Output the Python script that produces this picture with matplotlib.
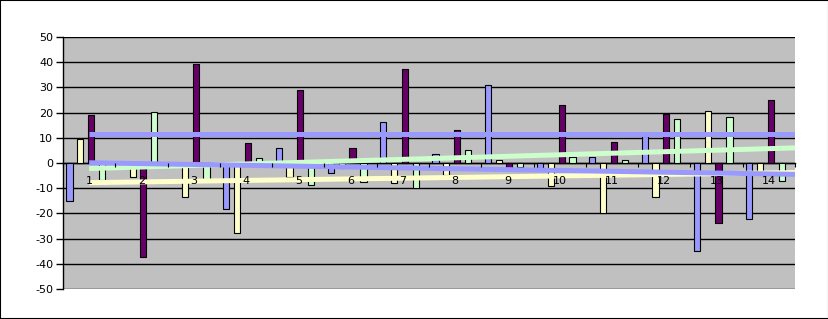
import matplotlib
matplotlib.use("Agg")
import matplotlib.pyplot as plt
from matplotlib.patches import Rectangle
import numpy as np

plt.rcParams["axes.unicode_minus"] = False

# categories 1..14
categories = [str(i) for i in range(1, 15)]

# four bar series
blue_vals = [-15, -1, -1, -18.3, 6, -4, 16.3, 3.6, 31, -2, 2.5, 10.8, -34.9, -22.2]
yellow_vals = [9.5, -5.6, -13.5, -27.8, -5.5, -2, -8, -4.8, 1.2, -9, -20, -13.5, 20.6, -3]
purple_vals = [19, -37.3, 39.3, 7.9, 29, 6, 37.3, 13, -2, 23, 8.3, 19.5, -23.8, 25]
green_vals = [-6.7, 20.3, -6.4, 2, -8.8, -7.5, -10, 5.2, -1.5, 2.5, 1.2, 17.5, 18.2, -7]

# line series (start / end values)
line_x = [1, 14.5]
line_flat = [11.6, 11.6]
line_blue = [0.1, -4.5]
line_green = [-2.2, 6.0]
line_yellow = [-7.8, -3.8]

bar_colors = ["#9999ff", "#ffffcc", "#660066", "#ccffcc"]
offsets = [-0.376, -0.168, 0.036, 0.246]
width = 0.118

fig = plt.figure(figsize=(8.29, 3.19), dpi=100)
ax = fig.add_axes([63 / 829, 30 / 319, 732 / 829, 252 / 319])
ax.set_facecolor("#c0c0c0")

x = np.arange(1, 15)
for vals, col, off in zip([blue_vals, yellow_vals, purple_vals, green_vals], bar_colors, offsets):
    ax.bar(x + off, vals, width=width, color=col, edgecolor="black", linewidth=0.8, zorder=3)

ax.plot(line_x, line_flat, color="#9999ff", lw=3.6, zorder=4, solid_capstyle="butt")
ax.plot(line_x, line_green, color="#ccffcc", lw=3.6, zorder=4, solid_capstyle="butt")
ax.plot(line_x, line_yellow, color="#ffffcc", lw=3.6, zorder=4, solid_capstyle="butt")
ax.plot(line_x, line_blue, color="#9999ff", lw=3.6, zorder=4, solid_capstyle="butt")

ax.set_xlim(0.5, 14.5)
ax.set_ylim(-50, 50)
ax.set_yticks(range(-50, 51, 10))
ax.yaxis.grid(True, color="black", lw=1.0, zorder=1)
ax.set_axisbelow(True)
ax.xaxis.set_zorder(5)
ax.tick_params(axis="y", direction="out", length=5, width=1, labelsize=8, pad=2)

ax.spines["top"].set_visible(False)
ax.spines["right"].set_visible(False)
ax.spines["left"].set_linewidth(1)
ax.spines["bottom"].set_position(("data", 0))
ax.spines["bottom"].set_linewidth(1)
ax.spines["bottom"].set_zorder(2)

ax.set_xticks(x)
ax.set_xticklabels(categories)
ax.set_xticks(np.arange(0.5, 15, 1), minor=True)
ax.tick_params(axis="x", which="major", length=0, labelsize=8, pad=9)
ax.tick_params(axis="x", which="minor", direction="out", length=3, width=0.8)

fig.patches.append(Rectangle((0, 0), 1, 1, transform=fig.transFigure,
                             fill=False, edgecolor="black", lw=1.5))

fig.savefig("out.png", dpi=100)
